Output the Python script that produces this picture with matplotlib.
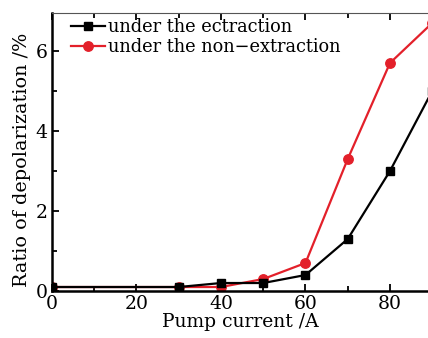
import matplotlib
matplotlib.use("Agg")
import matplotlib.pyplot as plt
from matplotlib.ticker import MultipleLocator

# data
current = [0, 30, 40, 50, 60, 70, 80, 90]
extraction = [0.1, 0.1, 0.2, 0.2, 0.4, 1.3, 3.0, 5.0]
non_extraction = [0.1, 0.1, 0.1, 0.3, 0.7, 3.3, 5.7, 6.7]

plt.rcParams['font.family'] = ['DejaVu Serif']
plt.rcParams['mathtext.fontset'] = 'dejavuserif'

fig = plt.figure(figsize=(4.28, 3.38), dpi=100)
ax = fig.add_axes([0.1215, 0.139, 0.8785, 0.8225])

ax.plot(current, extraction, color='black', marker='s', markersize=6,
        linewidth=1.6, label='under the ectraction', zorder=3)
ax.plot(current, non_extraction, color='#e3202a', marker='o', markersize=6.8,
        linewidth=1.6, label='under the non\u2212extraction', zorder=2)

ax.set_xlim(0, 89)
ax.set_ylim(0, 6.95)
ax.xaxis.set_major_locator(MultipleLocator(20))
ax.xaxis.set_minor_locator(MultipleLocator(10))
ax.yaxis.set_major_locator(MultipleLocator(2))
ax.yaxis.set_minor_locator(MultipleLocator(1))
ax.tick_params(which='both', direction='in', top=True, labelsize=13.5, width=1.3)
ax.tick_params(which='major', length=5)
ax.tick_params(which='minor', length=3.5)
ax.tick_params(axis='x', pad=3)
ax.tick_params(axis='y', pad=3)

ax.spines['right'].set_visible(False)
ax.spines['left'].set_linewidth(1.8)
ax.spines['bottom'].set_linewidth(1.8)
ax.spines['top'].set_linewidth(0.8)
ax.spines['top'].set_color('#555555')

ax.set_xlabel('Pump current /A', fontsize=13.5, labelpad=0)
ax.set_ylabel('Ratio of depolarization /%', fontsize=13.8, labelpad=1)
ax.yaxis.set_label_coords(-0.055, 0.47)

ax.legend(loc='upper left', frameon=False, fontsize=12.8, handlelength=1.9,
          handletextpad=0.15, borderaxespad=0.1, borderpad=0.2, labelspacing=0.12,
          bbox_to_anchor=(0.037, 1.0))

fig.savefig('out.png', dpi=100)
